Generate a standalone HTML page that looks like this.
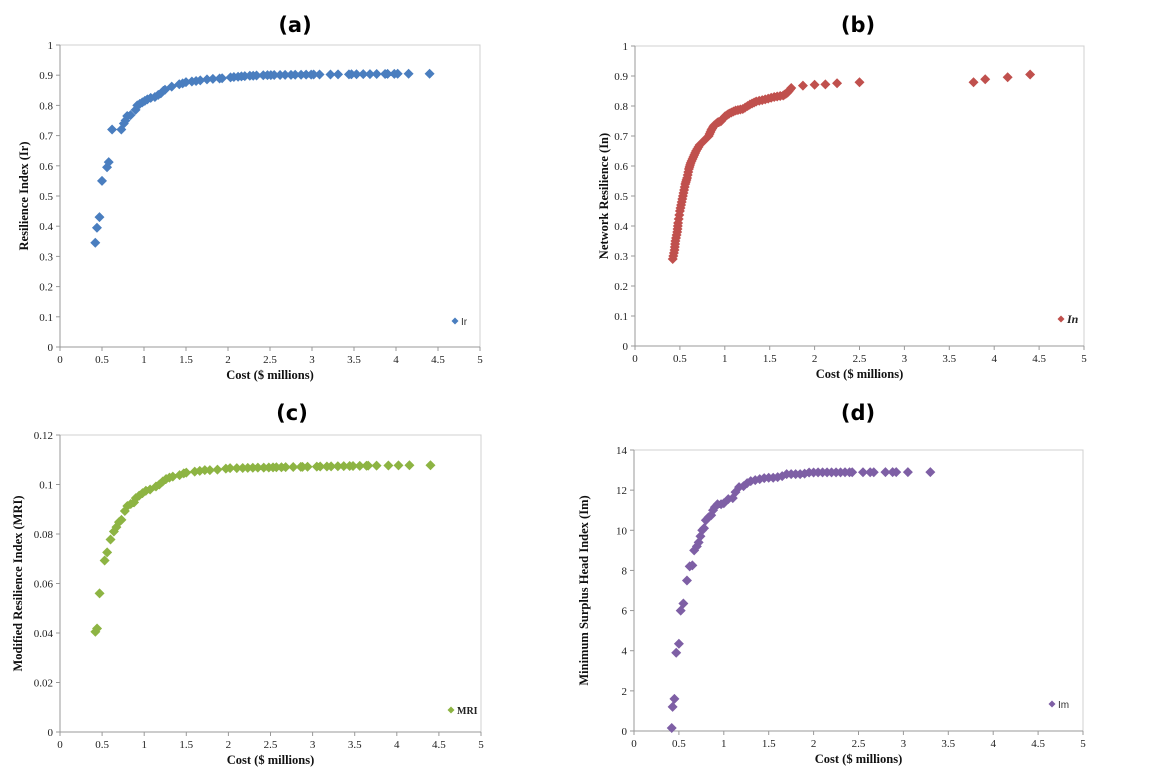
<!DOCTYPE html>
<html><head><meta charset="utf-8"><style>
html,body{margin:0;padding:0;background:#fff;width:1175px;height:781px;overflow:hidden}
svg{display:block}
.t{font-family:"Liberation Serif",serif;font-size:11px;fill:#222}
.ttl{font-family:"DejaVu Sans","Liberation Sans",sans-serif;font-weight:bold;font-size:21px;fill:#000}
.lab{font-family:"Liberation Serif",serif;font-weight:bold;font-size:12.5px;fill:#111}
</style></head><body>
<svg id="s" width="1175" height="781" xmlns="http://www.w3.org/2000/svg">
<text class="ttl" x="295" y="32" text-anchor="middle">(a)</text>
<text class="ttl" x="858" y="32" text-anchor="middle">(b)</text>
<text class="ttl" x="292" y="420" text-anchor="middle">(c)</text>
<text class="ttl" x="858" y="420" text-anchor="middle">(d)</text>
</svg>
<script>
var S=document.getElementById('s'),NS='http://www.w3.org/2000/svg';
function el(n,a,t){var e=document.createElementNS(NS,n);for(var k in a)e.setAttribute(k,a[k]);if(t!=null)e.textContent=t;S.appendChild(e);return e;}
function panel(p){
 var X=function(v){return p.x0+(p.x1-p.x0)*v/5},Y=function(v){return p.y0-(p.y0-p.y1)*v/p.ymax};
 el('rect',{x:p.x0,y:p.y1,width:p.x1-p.x0,height:p.y0-p.y1,fill:'none',stroke:'#d0d0d0','stroke-width':1});
 el('line',{x1:p.x0,y1:p.y1,x2:p.x0,y2:p.y0,stroke:'#999'});
 el('line',{x1:p.x0,y1:p.y0,x2:p.x1,y2:p.y0,stroke:'#999'});
 for(var i=0;i<=p.n;i++){var v=p.ymax*i/p.n,y=Y(v);
  el('line',{x1:p.x0-4,y1:y,x2:p.x0,y2:y,stroke:'#999'});
  el('text',{'class':'t',x:p.x0-7,y:y+4,'text-anchor':'end'},p.fmt(v));}
 for(var i=0;i<=10;i++){var v=i/2,x=X(v);
  el('line',{x1:x,y1:p.y0,x2:x,y2:p.y0+4,stroke:'#999'});
  el('text',{'class':'t',x:x,y:p.y0+16,'text-anchor':'middle'},String(v));}
 el('text',{'class':'lab',x:(p.x0+p.x1)/2,y:p.y0+32,'text-anchor':'middle'},'Cost ($ millions)');
 var ly=(p.y0+p.y1)/2;
 el('text',{'class':'lab',x:p.yl,y:ly,'text-anchor':'middle',transform:'rotate(-90 '+p.yl+' '+ly+')'},p.ylab);
 var d='';p.data.forEach(function(q){var x=X(q[0]),y=Y(q[1]);d+='M'+x+' '+(y-5)+'L'+(x+5)+' '+y+'L'+x+' '+(y+5)+'L'+(x-5)+' '+y+'Z';});
 el('path',{d:d,fill:p.c});
 var lx=p.lx,lyy=p.ly;
 el('path',{d:'M'+lx+' '+(lyy-3.5)+'L'+(lx+3.5)+' '+lyy+'L'+lx+' '+(lyy+3.5)+'L'+(lx-3.5)+' '+lyy+'Z',fill:p.c});
 el('text',{x:lx+6,y:lyy+4,style:p.ls},p.leg);
}
function flat(xs,a,b){return xs.map(function(x,i){return [x,a+(b-a)*i/(xs.length-1)]});}
var tail=[2.42,2.47,2.51,2.55,2.62,2.68,2.75,2.8,2.87,2.93,2.99,3.02,3.09,3.22,3.31,3.44,3.47,3.53,3.61,3.69,3.77,3.87,3.9,3.98,4.02,4.15,4.4];
var A=[[.42,.345],[.44,.395],[.47,.43],[.5,.55],[.56,.595],[.58,.612],[.62,.72],[.73,.72],[.76,.74],[.78,.75],[.8,.765],[.84,.768],[.9,.785],[.92,.8],[.95,.805],[.98,.81],[1.01,.815],[1.04,.82],[1.08,.825],[1.13,.828],[1.17,.835],[1.2,.84],[1.23,.848],[1.25,.852],[1.33,.862],[1.42,.87],[1.46,.873],[1.5,.877],[1.57,.879],[1.62,.881],[1.67,.883],[1.75,.886],[1.82,.888],[1.9,.889],[1.93,.89],[2.03,.893],[2.07,.894],[2.12,.895],[2.16,.896],[2.2,.897],[2.26,.898],[2.3,.898],[2.34,.899]].concat(flat(tail,.9,.905));
panel({x0:60,x1:480,y1:45,y0:347,ymax:1,n:10,fmt:function(v){return String(Math.round(v*10)/10)},data:A,c:'#4a7ebf',ylab:'Resilience Index (Ir)',yl:28,lx:455,ly:321,leg:'Ir',ls:'font-family:Liberation Sans,sans-serif;font-size:10px;fill:#333'});
var B=[];for(var i=0;i<=60;i++){var x=.42+i*(1.32/60);var y=.29+ .6*(1-Math.exp(-(x-.42)/.28));B.push([x,Math.min(y,.86)]);}
B=[];var bp=[[.42,.29],[.44,.32],[.45,.35],[.47,.38],[.48,.41],[.5,.45],[.52,.48],[.54,.51],[.56,.54],[.58,.56],[.6,.59],[.62,.61],[.65,.63],[.68,.65],[.72,.67],[.77,.685],[.82,.7],[.85,.72],[.88,.735],[.92,.745],[.96,.75],[1.0,.765],[1.05,.775],[1.12,.785],[1.2,.79],[1.28,.805],[1.35,.815],[1.45,.822],[1.55,.83],[1.65,.835],[1.7,.845],[1.74,.86]];
for(var k=0;k<bp.length-1;k++){for(var j=0;j<3;j++){var t=j/3;B.push([bp[k][0]+(bp[k+1][0]-bp[k][0])*t,bp[k][1]+(bp[k+1][1]-bp[k][1])*t]);}}
B.push([1.74,.86],[1.87,.868],[2.0,.871],[2.12,.872],[2.25,.876],[2.5,.879],[3.77,.879],[3.9,.889],[4.15,.896],[4.4,.905]);
panel({x0:635,x1:1084,y1:46,y0:346,ymax:1,n:10,fmt:function(v){return String(Math.round(v*10)/10)},data:B,c:'#c0504d',ylab:'Network Resilience (In)',yl:608,lx:1061,ly:319,leg:'In',ls:'font-family:Liberation Serif,serif;font-style:italic;font-weight:bold;font-size:12px;fill:#222'});
var tailc=[2.02,2.1,2.17,2.23,2.29,2.35,2.42,2.48,2.53,2.57,2.63,2.68,2.77,2.86,2.88,2.94,3.05,3.09,3.17,3.22,3.3,3.37,3.44,3.48,3.56,3.64,3.66,3.76,3.9,4.02,4.15,4.4];
var C=[[.42,.0405],[.44,.0418],[.47,.056],[.53,.0693],[.56,.0726],[.6,.0778],[.64,.081],[.67,.0828],[.7,.0848],[.73,.0857],[.77,.0893],[.8,.0913],[.84,.0921],[.88,.0928],[.9,.0945],[.94,.0955],[.98,.0965],[1.02,.0975],[1.07,.098],[1.14,.0992],[1.18,.1],[1.22,.1012],[1.26,.1022],[1.3,.1028],[1.34,.1032],[1.42,.1038],[1.47,.1045],[1.5,.1048],[1.6,.1052],[1.66,.1055],[1.72,.1058],[1.78,.1058],[1.87,.106],[1.97,.1064]].concat(flat(tailc,.1066,.1078));
panel({x0:60,x1:481,y1:435,y0:732,ymax:.12,n:6,fmt:function(v){var r=Math.round(v*100)/100;return r===0?'0':(r===0.1?'0.1':r.toFixed(2))},data:C,c:'#8db443',ylab:'Modified Resilience Index (MRI)',yl:22,lx:451,ly:710,leg:'MRI',ls:'font-family:Liberation Serif,serif;font-weight:bold;font-size:10px;fill:#222'});
var taild=[1.95,2.0,2.05,2.1,2.15,2.2,2.25,2.3,2.35,2.4,2.43,2.55,2.63,2.67,2.8,2.88,2.92,3.05,3.3];
var D=[[.42,.15],[.43,1.2],[.45,1.6],[.47,3.9],[.5,4.35],[.52,6.0],[.55,6.35],[.59,7.5],[.62,8.2],[.65,8.25],[.67,9.0],[.7,9.2],[.72,9.4],[.74,9.7],[.76,10.0],[.78,10.1],[.8,10.5],[.83,10.65],[.86,10.75],[.88,11.0],[.9,11.15],[.93,11.3],[.97,11.3],[1.0,11.35],[1.05,11.55],[1.1,11.6],[1.13,11.9],[1.17,12.15],[1.22,12.2],[1.26,12.35],[1.3,12.45],[1.35,12.5],[1.4,12.55],[1.45,12.6],[1.5,12.62],[1.55,12.62],[1.6,12.65],[1.65,12.7],[1.7,12.8],[1.75,12.8],[1.8,12.8],[1.85,12.8],[1.9,12.82]].concat(flat(taild,12.88,12.9));
panel({x0:634,x1:1083,y1:450,y0:731,ymax:14,n:7,fmt:function(v){return String(Math.round(v))},data:D,c:'#7e5fa5',ylab:'Minimum Surplus Head Index (Im)',yl:588,lx:1052,ly:704,leg:'Im',ls:'font-family:Liberation Sans,sans-serif;font-size:10px;fill:#333'});
</script>
</body></html>
